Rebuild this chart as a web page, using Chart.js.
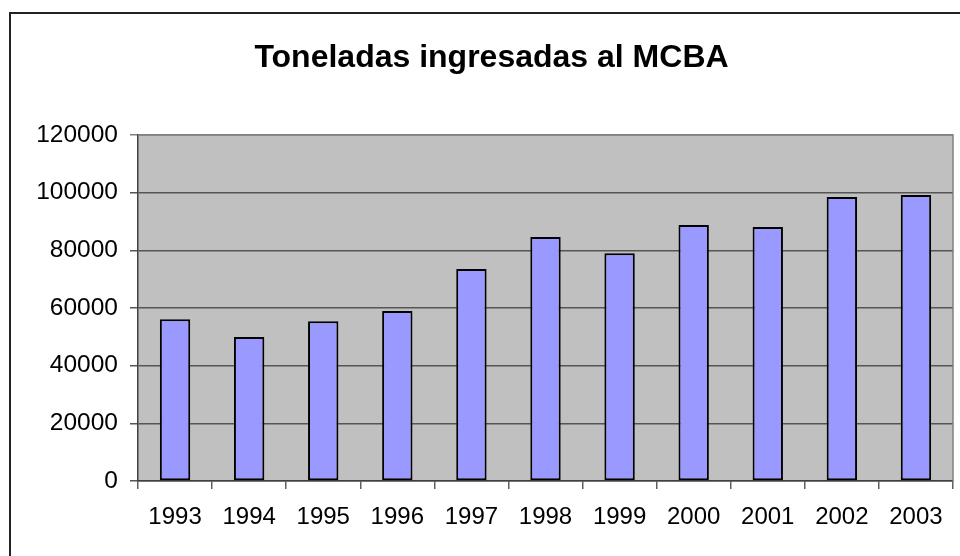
<!DOCTYPE html>
<html>
<head>
<meta charset="utf-8">
<script src="https://cdn.jsdelivr.net/npm/chart.js@4"></script>
<style>
  html, body { margin: 0; padding: 0; background: #fff; }
  #wrap { width: 960px; height: 556px; position: relative; }
</style>
</head>
<body>
<div id="wrap"><canvas id="c" width="960" height="556"></canvas></div>
<script>
const years = ["1993","1994","1995","1996","1997","1998","1999","2000","2001","2002","2003"];
const toneladas = [56100, 49900, 55400, 58900, 73500, 84600, 79000, 88800, 88100, 98500, 99200];
const titleText = "Toneladas ingresadas al MCBA";

const FONT = "'Liberation Sans', Arial, sans-serif";

const framePlugin = {
  id: 'frame',
  beforeDraw(chart) {
    const { ctx, chartArea: a } = chart;
    ctx.save();
    ctx.fillStyle = '#ffffff';
    ctx.fillRect(0, 0, chart.width, chart.height);
    ctx.fillStyle = '#C0C0C0';
    ctx.fillRect(a.left, a.top, a.right - a.left, a.bottom - a.top);
    ctx.restore();
  },
  afterDraw(chart) {
    const { ctx, chartArea: a } = chart;
    ctx.save();
    ctx.strokeStyle = '#808080';
    ctx.lineWidth = 1.5;
    ctx.beginPath();
    ctx.moveTo(a.left, a.top);
    ctx.lineTo(a.right, a.top);
    ctx.lineTo(a.right, a.bottom);
    ctx.stroke();
    ctx.strokeStyle = '#222222';
    ctx.lineWidth = 2;
    ctx.beginPath();
    ctx.moveTo(10, chart.height + 2);
    ctx.lineTo(10, 13);
    ctx.lineTo(chart.width + 2, 13);
    ctx.stroke();
    ctx.restore();
  }
};

new Chart(document.getElementById('c'), {
  type: 'bar',
  data: {
    labels: years,
    datasets: [{
      data: toneladas,
      backgroundColor: '#9999FF',
      borderColor: '#000000',
      borderWidth: 2,
      borderSkipped: false,
      categoryPercentage: 1,
      barPercentage: 0.41
    }]
  },
  options: {
    responsive: false,
    animation: false,
    devicePixelRatio: 1,
    layout: { padding: { left: 30, right: 7, top: 0, bottom: 0 } },
    plugins: {
      legend: { display: false },
      tooltip: { enabled: false },
      title: {
        display: true,
        text: titleText,
        color: '#000',
        font: { family: FONT, size: 32, weight: 'bold', lineHeight: 1.2 },
        padding: { top: 38.5, bottom: 58 }
      }
    },
    scales: {
      x: {
        offset: true,
        grid: { display: true, drawOnChartArea: false, drawTicks: true, tickLength: 8, offset: true, color: '#606060', lineWidth: 1.5 },
        border: { display: true, color: '#404040', width: 1.5 },
        ticks: { color: '#000', font: { family: FONT, size: 24 }, padding: 14, maxRotation: 0, autoSkip: false },
        afterFit(s) { s.height = 75; }
      },
      y: {
        min: 0, max: 120000,
        ticks: { stepSize: 20000, color: '#000', font: { family: FONT, size: 24.5 }, padding: 12, callback: v => String(v) },
        grid: {
          color: ctx => (ctx.tick && ctx.tick.value === 120000) ? '#808080' : '#555555',
          lineWidth: 1.5, tickLength: 8, drawTicks: true
        },
        border: { display: true, color: '#404040', width: 1.5 },
        afterFit(s) { s.width = 108; }
      }
    }
  },
  plugins: [framePlugin]
});
</script>
</body>
</html>
